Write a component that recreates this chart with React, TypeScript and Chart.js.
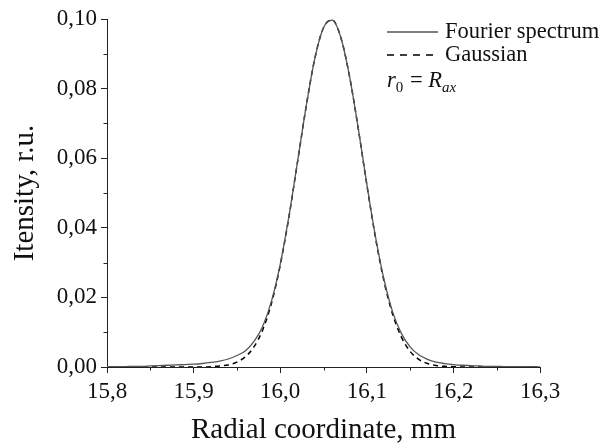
import React, { useEffect, useRef } from "react";
import { Chart, registerables } from "chart.js";

Chart.register(...registerables);

const radial = [
  15.80, 15.81, 15.82, 15.83, 15.84, 15.85, 15.86, 15.87, 15.88, 15.89,
  15.90, 15.91, 15.92, 15.93, 15.94, 15.95, 15.96, 15.97, 15.98, 15.99,
  16.00, 16.01, 16.02, 16.03, 16.04, 16.05, 16.06, 16.07, 16.08, 16.09,
  16.10, 16.11, 16.12, 16.13, 16.14, 16.15, 16.16, 16.17, 16.18, 16.19,
  16.20, 16.21, 16.22, 16.23, 16.24, 16.25, 16.26, 16.27, 16.28, 16.29,
  16.30,
];

const fourier = [
  0.0001, 0.0001, 0.0001, 0.0002, 0.0002, 0.0003, 0.0004, 0.0005, 0.0006, 0.0007,
  0.0008, 0.0010, 0.0013, 0.0017, 0.0023, 0.0033, 0.0047, 0.0074, 0.0118, 0.0190,
  0.0295, 0.0432, 0.0590, 0.0749, 0.0887, 0.0975, 0.0997, 0.0947, 0.0836, 0.0688,
  0.0526, 0.0375, 0.0250, 0.0157, 0.0096, 0.0058, 0.0035, 0.0022, 0.0014, 0.0010,
  0.0007, 0.0005, 0.0004, 0.0003, 0.0002, 0.0002, 0.0001, 0.0001, 0.0001, 0.0001,
  0.0000,
];

const gaussian = [
  0.0000, 0.0000, 0.0000, 0.0000, 0.0000, 0.0000, 0.0000, 0.0000, 0.0000, 0.0000,
  0.0000, 0.0000, 0.0001, 0.0003, 0.0006, 0.0014, 0.0030, 0.0059, 0.0108, 0.0184,
  0.0292, 0.0430, 0.0589, 0.0749, 0.0887, 0.0975, 0.0997, 0.0947, 0.0836, 0.0687,
  0.0524, 0.0372, 0.0245, 0.0150, 0.0086, 0.0045, 0.0022, 0.0010, 0.0004, 0.0002,
  0.0001, 0.0000, 0.0000, 0.0000, 0.0000, 0.0000, 0.0000, 0.0000, 0.0000, 0.0000,
  0.0000,
];

const xTicks = [15.8, 15.9, 16.0, 16.1, 16.2, 16.3];
const xMinorTicks = [15.85, 15.95, 16.05, 16.15, 16.25];
const yTicks = [0.0, 0.02, 0.04, 0.06, 0.08, 0.1];
const yMinorTicks = [0.01, 0.03, 0.05, 0.07, 0.09];

const seriesNames = ["Fourier spectrum", "Gaussian"];

const FONT = "'Liberation Serif', 'Times New Roman', serif";
const AXIS_COLOR = "#222";
const SOLID_COLOR = "#555";

const fmt = (v: number, d: number) => v.toFixed(d).replace(".", ",");

const decorPlugin = {
  id: "decor",
  afterDraw(chart: any) {
    const ctx = chart.ctx as CanvasRenderingContext2D;
    const xs = chart.scales.x;
    const ys = chart.scales.y;
    const area = chart.chartArea;
    ctx.save();
    // minor ticks
    ctx.strokeStyle = AXIS_COLOR;
    ctx.lineWidth = 1;
    ctx.beginPath();
    for (const v of xMinorTicks) {
      const px = Math.round(xs.getPixelForValue(v)) + 0.5;
      ctx.moveTo(px, area.bottom);
      ctx.lineTo(px, area.bottom + 3.5);
    }
    for (const v of yMinorTicks) {
      const py = Math.round(ys.getPixelForValue(v)) + 0.5;
      ctx.moveTo(area.left, py);
      ctx.lineTo(area.left - 3.5, py);
    }
    ctx.stroke();

    // legend
    const lx0 = area.right - 153;
    const lx1 = lx0 + 51;
    const tx = lx0 + 58;
    const rows = [area.top + 13, area.top + 36, area.top + 61];
    ctx.font = `22.5px ${FONT}`;
    ctx.textBaseline = "middle";
    ctx.textAlign = "left";
    ctx.fillStyle = "#111";

    ctx.strokeStyle = SOLID_COLOR;
    ctx.lineWidth = 1.3;
    ctx.setLineDash([]);
    ctx.beginPath();
    ctx.moveTo(lx0, rows[0]);
    ctx.lineTo(lx1, rows[0]);
    ctx.stroke();
    ctx.fillText(seriesNames[0], tx, rows[0]);

    ctx.strokeStyle = "#000";
    ctx.lineWidth = 1.5;
    ctx.setLineDash([7, 6]);
    ctx.beginPath();
    ctx.moveTo(lx0, rows[1]);
    ctx.lineTo(lx1, rows[1]);
    ctx.stroke();
    ctx.setLineDash([]);
    ctx.fillText(seriesNames[1], tx, rows[1]);

    // r0 = Rax
    let x = lx0;
    const y = rows[2];
    ctx.textBaseline = "alphabetic";
    const base = y + 7;
    ctx.font = `italic 22.5px ${FONT}`;
    ctx.fillText("r", x, base);
    x += ctx.measureText("r").width;
    ctx.font = `15px ${FONT}`;
    ctx.fillText("0", x, base + 5);
    x += ctx.measureText("0").width + 1;
    ctx.font = `22.5px ${FONT}`;
    ctx.fillText(" = ", x, base);
    x += ctx.measureText(" = ").width;
    ctx.font = `italic 22.5px ${FONT}`;
    ctx.fillText("R", x, base);
    x += ctx.measureText("R").width;
    ctx.font = `italic 15px ${FONT}`;
    ctx.fillText("ax", x, base + 5);
    ctx.restore();
  },
};

export default function App() {
  const canvasRef = useRef<HTMLCanvasElement | null>(null);

  useEffect(() => {
    if (!canvasRef.current) return;
    const chart = new Chart(canvasRef.current, {
      type: "line",
      data: {
        datasets: [
          {
            label: seriesNames[0],
            data: radial.map((x, i) => ({ x, y: fourier[i] })),
            borderColor: SOLID_COLOR,
            borderWidth: 1.3,
            pointRadius: 0,
            cubicInterpolationMode: "monotone",
            fill: false,
          },
          {
            label: seriesNames[1],
            data: radial.map((x, i) => ({ x, y: gaussian[i] })),
            borderColor: "#000",
            borderWidth: 1.5,
            borderDash: [5, 4],
            pointRadius: 0,
            cubicInterpolationMode: "monotone",
            fill: false,
          },
        ],
      },
      options: {
        responsive: false,
        animation: false,
        layout: { padding: { top: 19, right: 63, left: 0, bottom: 0 } },
        plugins: { legend: { display: false }, tooltip: { enabled: false } },
        scales: {
          x: {
            type: "linear",
            min: 15.8,
            max: 16.3,
            afterBuildTicks: (s: any) => {
              s.ticks = xTicks.map((v) => ({ value: v }));
            },
            afterFit: (s: any) => {
              s.height = 79;
            },
            border: { display: true, color: AXIS_COLOR, width: 1 },
            grid: { drawOnChartArea: false, drawTicks: true, tickLength: 6, color: AXIS_COLOR },
            ticks: {
              color: "#111",
              font: { family: FONT, size: 23 },
              padding: 5,
              maxRotation: 0,
              autoSkip: false,
              callback: (v: any) => fmt(Number(v), 1),
            },
            title: {
              display: true,
              text: "Radial coordinate, mm",
              color: "#111",
              font: { family: FONT, size: 29, lineHeight: 1.1 },
              padding: { top: 0, bottom: 0 },
            },
          },
          y: {
            type: "linear",
            min: 0,
            max: 0.1,
            afterBuildTicks: (s: any) => {
              s.ticks = yTicks.map((v) => ({ value: v }));
            },
            afterFit: (s: any) => {
              s.width = 107;
            },
            border: { display: true, color: AXIS_COLOR, width: 1 },
            grid: { drawOnChartArea: false, drawTicks: true, tickLength: 6, color: AXIS_COLOR },
            ticks: {
              color: "#111",
              font: { family: FONT, size: 23 },
              padding: 4,
              autoSkip: false,
              callback: (v: any) => fmt(Number(v), 2),
            },
            title: {
              display: true,
              text: "Itensity, r.u.",
              color: "#111",
              font: { family: FONT, size: 29, lineHeight: 1.2 },
              padding: { top: 8, bottom: 0 },
            },
          },
        },
      },
      plugins: [decorPlugin],
    });
    return () => chart.destroy();
  }, []);

  return (
    <div style={{ position: "fixed", left: 0, top: 0, width: 603, height: 446, background: "#fff" }}>
      <canvas ref={canvasRef} width={603} height={446} />
    </div>
  );
}
